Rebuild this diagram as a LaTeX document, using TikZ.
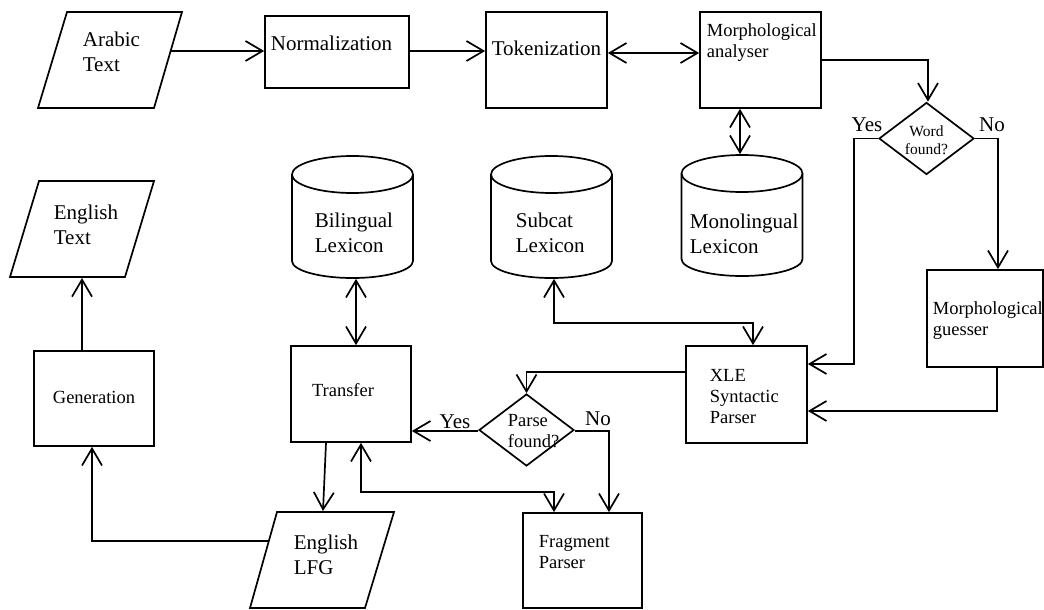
\documentclass[tikz,border=0pt]{standalone}
\usepackage{fontspec}
\setmainfont{Liberation Serif}
\usetikzlibrary{arrows.meta,shapes.geometric}

% Database symbol: top ellipse, sides and lower arc (centre x, top y, bottom y)
\newcommand\drawlexicon[3]{%
  \draw (#1,#2+18.5) ellipse [x radius=60.5, y radius=18.5];
  \draw (#1-60.5,#2+18.5) -- (#1-60.5,#3-17)
        arc [start angle=180, end angle=0, x radius=60.5, y radius=17]
        -- (#1+60.5,#2+18.5);
}

\begin{document}
\begin{tikzpicture}[x=1pt, y=-1pt, line width=1.7pt,
  box/.style={draw, rectangle, inner sep=0},
  lexbox/.style={rectangle, inner sep=0, minimum width=121, minimum height=122},
  decision/.style={draw, diamond, inner sep=0, minimum width=95, minimum height=72},
  big/.style={font=\fontsize{21}{25}\selectfont, inner sep=0},
  mid/.style={font=\fontsize{18.5}{21}\selectfont, inner sep=0},
  small/.style={font=\fontsize{15.5}{18}\selectfont, inner sep=0},
  lefttext/.style={align=left, anchor=west},
  flow/.style={-{Straight Barb[length=17pt,width=20pt]}},
  both/.style={{Straight Barb[length=17pt,width=20pt]}-{Straight Barb[length=17pt,width=20pt]}}
]
\useasboundingbox (0,0) rectangle (1044,610);

% ---- input / output documents (parallelograms)
\draw (67,12) -- (182,12) -- (154,108) -- (38,108) -- cycle;
\coordinate (arabic-e) at (171,51);
\node[big, lefttext] (arabic) at (82,52) {Arabic\\Text};

\draw (39,181) -- (154,181) -- (125,277) -- (10,277) -- cycle;
\coordinate (entext-s) at (82,278);
\node[big, lefttext] (entext) at (53,225) {English\\Text};

\draw (277,512) -- (394,512) -- (365,608) -- (250,608) -- cycle;
\coordinate (lfg-n) at (323,511);
\coordinate (lfg-w) at (269,541);
\node[big, lefttext] (lfg) at (293,555) {English\\LFG};

% ---- processing steps
\node[box, minimum width=144, minimum height=72] (norm) at (337,52) {};
\node[big] (norm-t) at (331.5,43) {Normalization};

\node[box, minimum width=121, minimum height=96] (tok) at (546.5,60) {};
\node[big] (tok-t) at (546.5,48) {Tokenization};

\node[box, minimum width=121, minimum height=96] (morph) at (760.5,60) {};
\node[mid, lefttext] (morph-t) at (706,43) {Morphological\\analyser};

\node[box, minimum width=116, minimum height=97] (guess) at (985,318.5) {};
\node[mid, lefttext] (guess-t) at (932,320.5) {Morphological\\guesser};

\node[box, minimum width=121, minimum height=97] (xle) at (746.5,394.5) {};
\node[mid, lefttext] (xle-t) at (709,397) {XLE\\Syntactic\\Parser};

\node[box, minimum width=120, minimum height=96] (trans) at (351,394) {};
\node[mid] (trans-t) at (343,390) {Transfer};

\node[box, minimum width=119, minimum height=95] (frag) at (582.5,560.5) {};
\node[mid, lefttext] (frag-t) at (538,552) {Fragment\\Parser};

\node[box, minimum width=120, minimum height=95] (gen) at (94,398.5) {};
\node[mid] (gen-t) at (94,397) {Generation};

% ---- lexicons
\node[lexbox] (bil) at (352.5,217) {};
\drawlexicon{352.5}{156}{278}
\node[big, lefttext] (bil-t) at (314,232.5) {Bilingual\\Lexicon};

\node[lexbox] (sub) at (551.5,217) {};
\drawlexicon{551.5}{156}{278}
\node[big, lefttext] (sub-t) at (515,232.5) {Subcat\\Lexicon};

\node[lexbox, minimum height=121] (mono) at (742,215.5) {};
\drawlexicon{742}{155}{276}
\node[big, lefttext] (mono-t) at (689,234) {Monolingual\\Lexicon};

% ---- decisions
\node[decision] (word) at (926.5,138.5) {};
\node[small, align=center] (word-t) at (926.5,140) {Word\\found?};

\node[decision] (parse) at (526.5,430) {};
\node[mid, lefttext] (parse-t) at (507,431) {Parse\\found?};

% ---- connectors
\draw[flow] (arabic-e) -- (arabic-e -| norm.west);
\draw[flow] ([yshift=1pt]norm.east) -- ([yshift=1pt]norm.east -| tok.west);
\draw[both] ([yshift=7pt]tok.east) -- ([yshift=7pt]tok.east -| morph.west);
\draw[flow] (morph.east) -| ([xshift=1.5pt]word.north);
\draw[both] ([xshift=-20.5pt]morph.south) -- ([xshift=-2pt]mono.north);

\draw[flow] (word.west) -- ++(-24,0) |- ([yshift=30.5pt]xle.east);
\node[big] (word-yes) at (867,125) {Yes};
\draw[flow] (word.east) -| ([xshift=13pt]guess.north);
\node[big] (word-no) at (992,125) {No};
\draw[flow] ([xshift=12pt]guess.south) |- ([yshift=-16.5pt]xle.east);

\draw[both] ([xshift=2.5pt]sub.south) -- ++(0,44) -| ([xshift=6.5pt]xle.north);
\draw[flow] ([yshift=22.5pt]xle.west) -| (parse.north);

\draw[flow] ([yshift=-1pt]parse.west) -- ([yshift=-1pt]parse.west -| trans.east);
\node[big] (parse-yes) at (455,422) {Yes};
\draw[flow] ([yshift=-1pt]parse.east) -| ([xshift=26.5pt]frag.north);
\node[big] (parse-no) at (598,419) {No};

\draw[both] ([xshift=3.5pt]bil.south) -- ([xshift=5pt]trans.north);
\draw[flow] ([xshift=-25pt]trans.south) -- (lfg-n);
\draw[both] ([xshift=10pt]trans.south) -- ++(0,49) -| ([xshift=-28.5pt]frag.north);

\draw[flow] (lfg-w) -| ([xshift=-2pt]gen.south);
\draw[flow] ([xshift=-12pt]gen.north) -- (entext-s);

\end{tikzpicture}
\end{document}
